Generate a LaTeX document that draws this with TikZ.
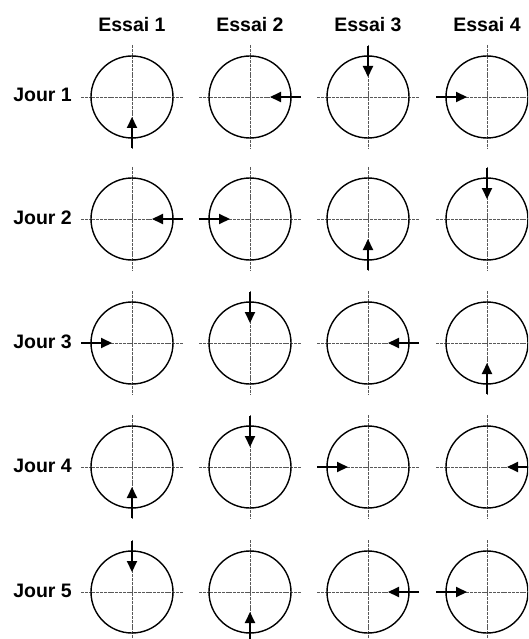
\documentclass[tikz,border=0pt]{standalone}
\usepackage{fontspec}
\setmainfont{Liberation Sans}
\usetikzlibrary{arrows.meta}
\begin{document}
\begin{tikzpicture}[x=1pt,y=-1pt,
  ring/.style={line width=1.4pt},
  axisline/.style={line width=0.9pt, black!65, dash pattern=on 3pt off 0.8pt},
  trialarrow/.style={line width=2pt, -{Triangle[length=11pt,width=10pt]}},
  lbl/.style={font=\fontsize{19.5}{22}\selectfont\bfseries, inner sep=0pt}
]
\useasboundingbox (0,0) rectangle (528,639);
\clip (0,0) rectangle (528,639);
\foreach \x [count=\i] in {132,250,368,487}
  \node[lbl,anchor=base] (essai\i) at (\x,32) {Essai \i};
\foreach \y [count=\j] in {97,219,343,467,592}
  \node[lbl,anchor=base east] (jour\j) at (72,\y+5) {Jour \j};
\foreach \x [count=\i] in {132,250,368,487}{
  \foreach \y [count=\j] in {97,219,343,467,592}{
    \coordinate (c\i\j) at (\x,\y);
    \draw[axisline] ([xshift=-51pt]c\i\j) -- ([xshift=51pt]c\i\j);
    \draw[axisline] ([yshift=52pt]c\i\j) -- ([yshift=-52pt]c\i\j);
    \draw[ring] (c\i\j) circle[radius=41pt];
  }
}
\foreach \i/\j/\sx/\sy in {
  1/1/0/1, 2/1/1/0, 3/1/0/-1, 4/1/-1/0,
  1/2/1/0, 2/2/-1/0, 3/2/0/1, 4/2/0/-1,
  1/3/-1/0, 2/3/0/-1, 3/3/1/0, 4/3/0/1,
  1/4/0/1, 2/4/0/-1, 3/4/-1/0, 4/4/1/0,
  1/5/0/-1, 2/5/0/1, 3/5/1/0, 4/5/-1/0}
  \draw[trialarrow] ([shift={(\sx*51,\sy*51)}]c\i\j) -- ([shift={(\sx*20,\sy*20)}]c\i\j);
\end{tikzpicture}
\end{document}
